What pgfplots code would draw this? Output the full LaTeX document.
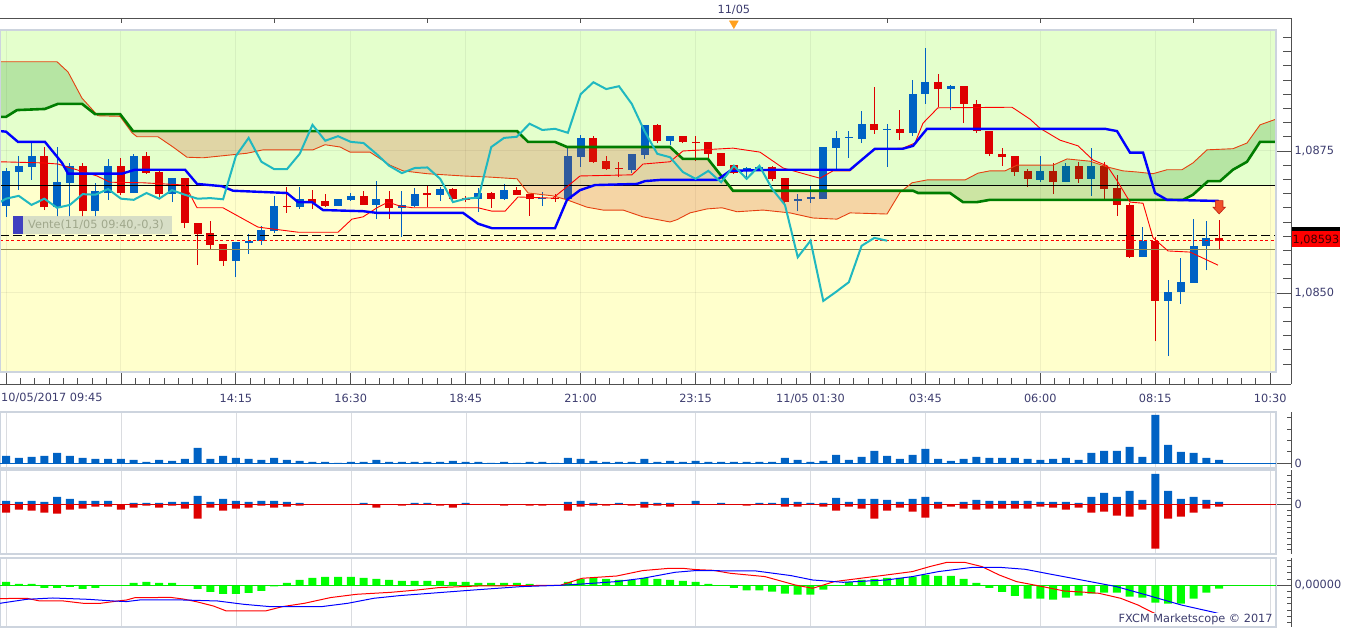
\documentclass[border=0pt]{standalone}
\usepackage{pgfplots}
\pgfplotsset{compat=1.18}
\usepackage{pgfplotstable}
\usepackage{fontspec}
\setmainfont{DejaVu Sans}

\definecolor{bggreen}{RGB}{228,255,204}
\definecolor{bgyellow}{RGB}{255,255,204}
\definecolor{cblue}{RGB}{0,98,196}
\definecolor{cred}{RGB}{221,0,0}
\definecolor{kij}{RGB}{0,0,255}
\definecolor{ten}{RGB}{255,0,0}
\definecolor{spa}{RGB}{230,64,16}
\definecolor{spb}{RGB}{0,125,0}
\definecolor{chik}{RGB}{32,184,192}
\definecolor{cgreen}{RGB}{0,128,0}
\definecolor{corange}{RGB}{210,64,27}
\definecolor{olivel}{RGB}{140,135,80}
\definecolor{framec}{RGB}{80,80,80}
\definecolor{borderc}{RGB}{205,212,222}
\definecolor{pgrid}{RGB}{218,220,224}
\definecolor{labelc}{RGB}{60,60,110}
\definecolor{hgreen}{RGB}{0,255,0}
\definecolor{zgreen}{RGB}{0,235,0}
\definecolor{orangec}{RGB}{255,160,30}
\definecolor{arrowc}{RGB}{240,80,40}
\definecolor{arrowd}{RGB}{190,30,20}
\definecolor{ventebg}{RGB}{212,220,198}
\definecolor{ventesq}{RGB}{64,64,192}
\definecolor{ventetx}{RGB}{160,168,140}
\definecolor{pricetx}{RGB}{60,0,0}

\pgfdeclareplotmark{dnarrow}{%
  \pgfpathmoveto{\pgfqpoint{-3.8pt}{6.6pt}}%
  \pgfpathlineto{\pgfqpoint{3.8pt}{6.6pt}}%
  \pgfpathlineto{\pgfqpoint{3.8pt}{0pt}}%
  \pgfpathlineto{\pgfqpoint{6.2pt}{0pt}}%
  \pgfpathlineto{\pgfqpoint{0pt}{-6.7pt}}%
  \pgfpathlineto{\pgfqpoint{-6.2pt}{0pt}}%
  \pgfpathlineto{\pgfqpoint{-3.8pt}{0pt}}%
  \pgfpathclose
  \pgfusepathqfillstroke
}

\pgfplotsset{
  base/.style={scale only axis, anchor=south west, xmin=-0.47, xmax=100.63,
    tick label style={font=\fontsize{11.3}{13.6}\selectfont}},
  panel/.style={base, width=1291pt, clip=false,
    axis x line*=bottom, x axis line style={draw=none}, xtick style={draw=none},
    xtick={0,9,...,99}, xticklabels={}, xmajorgrids, major x grid style={pgrid},
    axis y line*=right, y axis line style={draw=framec, line width=0.8pt},
    tick align=inside, ytick style={draw=framec, line width=0.8pt},
    major tick length=15pt, minor tick length=4.5pt,
    yticklabel style={color=labelc}},
}

% candles: index, open, high, low, close, k (0 up, 1 down)
\pgfplotstableread{
i o h l c k
0 1.08653 1.08720 1.08634 1.08715 0
1 1.08713 1.08741 1.08681 1.08724 0
2 1.08722 1.08764 1.08699 1.08741 0
3 1.08741 1.08757 1.08646 1.08651 1
4 1.08651 1.08757 1.08634 1.08695 0
5 1.08694 1.08729 1.08634 1.08724 0
6 1.08724 1.08729 1.08634 1.08644 1
7 1.08644 1.08694 1.08634 1.08680 0
8 1.08676 1.08736 1.08664 1.08724 0
9 1.08724 1.08738 1.08673 1.08676 1
10 1.08676 1.08745 1.08676 1.08741 0
11 1.08741 1.08748 1.08710 1.08711 1
12 1.08713 1.08717 1.08669 1.08674 1
13 1.08674 1.08702 1.08660 1.08702 0
14 1.08702 1.08702 1.08614 1.08623 1
15 1.08623 1.08623 1.08549 1.08604 1
16 1.08606 1.08627 1.08576 1.08585 1
17 1.08586 1.08586 1.08548 1.08556 1
18 1.08556 1.08590 1.08528 1.08590 0
19 1.08588 1.08604 1.08569 1.08592 0
20 1.08592 1.08618 1.08585 1.08611 0
21 1.08609 1.08671 1.08606 1.08653 0
22 1.08653 1.08687 1.08641 1.08651 1
23 1.08651 1.08687 1.08648 1.08666 0
24 1.08666 1.08681 1.08648 1.08658 1
25 1.08662 1.08674 1.08651 1.08653 1
26 1.08653 1.08666 1.08653 1.08666 0
27 1.08664 1.08676 1.08662 1.08671 0
28 1.08671 1.08680 1.08655 1.08655 1
29 1.08655 1.08697 1.08630 1.08666 0
30 1.08666 1.08680 1.08630 1.08650 1
31 1.08650 1.08680 1.08599 1.08655 0
32 1.08653 1.08685 1.08651 1.08674 0
33 1.08675 1.08690 1.08651 1.08673 1
34 1.08673 1.08687 1.08662 1.08683 0
35 1.08683 1.08685 1.08658 1.08666 1
36 1.08666 1.08671 1.08660 1.08664 1
37 1.08666 1.08685 1.08643 1.08676 0
38 1.08676 1.08678 1.08650 1.08666 1
39 1.08666 1.08692 1.08664 1.08681 0
40 1.08681 1.08687 1.08673 1.08673 1
41 1.08674 1.08674 1.08636 1.08666 1
42 1.08665 1.08678 1.08653 1.08667 0
43 1.08667 1.08674 1.08660 1.08665 1
44 1.08666 1.08757 1.08664 1.08741 0
45 1.08739 1.08778 1.08722 1.08773 0
46 1.08773 1.08776 1.08729 1.08731 1
47 1.08732 1.08741 1.08717 1.08718 1
48 1.08720 1.08731 1.08704 1.08718 1
49 1.08717 1.08745 1.08711 1.08745 0
50 1.08743 1.08796 1.08736 1.08796 0
51 1.08796 1.08798 1.08764 1.08768 1
52 1.08768 1.08776 1.08761 1.08776 0
53 1.08776 1.08776 1.08764 1.08766 1
54 1.08766 1.08776 1.08732 1.08764 1
55 1.08766 1.08766 1.08738 1.08745 1
56 1.08747 1.08747 1.08724 1.08724 1
57 1.08725 1.08725 1.08710 1.08711 1
58 1.08717 1.08722 1.08704 1.08720 0
59 1.08718 1.08725 1.08717 1.08721 0
60 1.08722 1.08724 1.08697 1.08701 1
61 1.08702 1.08702 1.08658 1.08660 1
62 1.08662 1.08674 1.08644 1.08666 0
63 1.08666 1.08690 1.08658 1.08668 0
64 1.08666 1.08757 1.08666 1.08757 0
65 1.08755 1.08785 1.08717 1.08773 0
66 1.08773 1.08785 1.08738 1.08775 0
67 1.08771 1.08820 1.08764 1.08798 0
68 1.08798 1.08863 1.08780 1.08787 1
69 1.08787 1.08798 1.08722 1.08789 0
70 1.08789 1.08822 1.08769 1.08782 1
71 1.08782 1.08875 1.08776 1.08850 0
72 1.08850 1.08931 1.08833 1.08871 0
73 1.08871 1.08886 1.08827 1.08859 1
74 1.08859 1.08866 1.08822 1.08864 0
75 1.08864 1.08864 1.08799 1.08833 1
76 1.08833 1.08840 1.08782 1.08785 1
77 1.08785 1.08785 1.08741 1.08745 1
78 1.08745 1.08755 1.08724 1.08739 1
79 1.08741 1.08741 1.08706 1.08713 1
80 1.08715 1.08718 1.08687 1.08701 1
81 1.08699 1.08741 1.08695 1.08715 0
82 1.08715 1.08729 1.08674 1.08695 1
83 1.08695 1.08729 1.08695 1.08724 0
84 1.08724 1.08731 1.08694 1.08701 1
85 1.08701 1.08755 1.08671 1.08724 0
86 1.08724 1.08731 1.08666 1.08683 1
87 1.08685 1.08708 1.08636 1.08655 1
88 1.08655 1.08658 1.08562 1.08563 1
89 1.08563 1.08616 1.08563 1.08592 0
90 1.08592 1.08599 1.08415 1.08486 1
91 1.08486 1.08523 1.08389 1.08502 0
92 1.08502 1.08562 1.08481 1.08519 0
93 1.08518 1.08630 1.08518 1.08583 0
94 1.08583 1.08627 1.08540 1.08597 0
95 1.08597 1.08629 1.08578 1.08592 1
}\candles

\pgfplotstableread{
x y
-0.47 1.08785
0 1.08784
0.94 1.08766
3.05 1.08766
4.39 1.08729
4.86 1.08710
9.08 1.08710
10.1 1.08717
14.02 1.08717
14.96 1.08692
16.91 1.08688
17.78 1.08680
22.0 1.08676
22.87 1.08660
23.96 1.08660
24.82 1.08646
27.96 1.08644
29.05 1.08641
35.79 1.08641
36.96 1.08622
38.06 1.08614
42.99 1.08614
43.93 1.08664
44.95 1.08681
46.12 1.08690
49.41 1.08692
50.04 1.08697
51.21 1.08699
55.68 1.08699
56.7 1.08715
60.38 1.08717
66.09 1.08717
68.05 1.08754
70.24 1.08754
71.03 1.08759
72.12 1.08789
86.06 1.08789
87.0 1.08785
88.02 1.08747
89.04 1.08747
89.98 1.08676
90.92 1.08664
94.99 1.08662
}\kijun

\pgfplotstableread{
x y
-0.47 1.08731
2.9 1.08729
4.07 1.08727
7.13 1.08706
8.14 1.08695
10.73 1.08694
14.02 1.08690
14.96 1.08650
16.99 1.08650
19.73 1.08616
22.87 1.08607
26.0 1.08607
27.09 1.08630
27.96 1.08634
29.05 1.08650
29.91 1.08660
30.85 1.08653
31.87 1.08650
36.96 1.08650
38.06 1.08644
39.08 1.08644
40.09 1.08669
42.83 1.08667
43.93 1.08687
44.95 1.08706
49.02 1.08708
49.88 1.08727
52.0 1.08731
53.01 1.08750
56.93 1.08755
59.04 1.08748
60.85 1.08720
63.74 1.08702
64.76 1.08715
66.09 1.08715
67.89 1.08752
70.24 1.08755
71.18 1.08764
71.81 1.08799
72.98 1.08826
78.78 1.08827
80.19 1.08806
80.97 1.08790
82.54 1.08769
83.95 1.08759
85.12 1.08734
86.22 1.08724
87.08 1.08695
88.02 1.08660
89.04 1.08658
89.82 1.08597
91.0 1.08574
92.72 1.08572
94.91 1.08549
}\tenkan

\pgfplotstableread{
x y
-0.47 1.08907
4.0 1.08907
4.86 1.08889
5.95 1.08843
7.2 1.08812
8.93 1.08811
9.87 1.08782
10.26 1.08775
11.9 1.08775
13.08 1.08757
14.17 1.08739
15.43 1.08738
18.87 1.08746
20.13 1.08752
24.04 1.08752
24.98 1.08761
26.16 1.08757
26.94 1.08748
28.5 1.08748
30.07 1.08725
31.09 1.08715
32.97 1.08710
35.79 1.08706
37.9 1.08704
40.02 1.08701
40.88 1.08676
42.83 1.08671
43.93 1.08664
45.5 1.08651
46.75 1.08646
48.32 1.08646
49.88 1.08634
52.0 1.08625
52.54 1.08629
53.56 1.08641
54.89 1.08648
56.07 1.08650
57.24 1.08643
59.28 1.08646
61.39 1.08641
63.19 1.08632
65.07 1.08630
66.09 1.08641
68.99 1.08639
70.01 1.08677
70.95 1.08694
72.12 1.08699
75.1 1.08699
76.12 1.08711
77.05 1.08715
78.23 1.08715
79.17 1.08725
81.99 1.08725
83.09 1.08736
84.89 1.08732
86.22 1.08722
87.47 1.08715
88.57 1.08713
89.82 1.08710
90.92 1.08717
92.09 1.08717
92.95 1.08729
94.05 1.08752
96.08 1.08754
97.18 1.08764
98.2 1.08796
99.45 1.08806
100.55 1.08810
}\spanA

\pgfplotstableread{
x y
-0.47 1.08810
0 1.08810
0.86 1.08822
3.05 1.08824
4.07 1.08833
5.95 1.08833
6.97 1.08815
8.93 1.08815
9.95 1.08785
40.02 1.08785
40.88 1.08766
42.99 1.08766
43.93 1.08757
52.0 1.08757
53.01 1.08736
54.97 1.08736
56.93 1.08680
71.03 1.08680
71.42 1.08676
73.92 1.08676
74.94 1.08660
76.04 1.08660
77.05 1.08664
92.17 1.08664
92.95 1.08673
94.13 1.08697
95.07 1.08697
96.08 1.08717
97.18 1.08731
98.2 1.08766
100.55 1.08766
}\spanB

% cloud areas between span A and span B (outline: one span forward, the other back)
\pgfplotstableread{
x y
-0.47 1.08907
4.0 1.08907
4.86 1.08889
5.95 1.08843
7.08 1.08815
6.97 1.08815
5.95 1.08833
4.07 1.08833
3.05 1.08824
0.86 1.08822
0 1.08810
-0.47 1.08810
}\cloudGa

\pgfplotstableread{
x y
7.08 1.08815
8.93 1.08815
9.95 1.08785
40.02 1.08785
40.88 1.08766
42.99 1.08766
43.93 1.08757
52.0 1.08757
53.01 1.08736
54.97 1.08736
56.93 1.08680
70.18 1.08680
70.01 1.08677
68.99 1.08639
66.09 1.08641
65.07 1.08630
63.19 1.08632
61.39 1.08641
59.28 1.08646
57.24 1.08643
56.07 1.08650
54.89 1.08648
53.56 1.08641
52.54 1.08629
52.0 1.08625
49.88 1.08634
48.32 1.08646
46.75 1.08646
45.5 1.08651
43.93 1.08664
42.83 1.08671
40.88 1.08676
40.02 1.08701
37.9 1.08704
35.79 1.08706
32.97 1.08710
31.09 1.08715
30.07 1.08725
28.5 1.08748
26.94 1.08748
26.16 1.08757
24.98 1.08761
24.04 1.08752
20.13 1.08752
18.87 1.08746
15.43 1.08738
14.17 1.08739
13.08 1.08757
11.9 1.08775
10.26 1.08775
9.87 1.08782
8.93 1.08811
7.2 1.08812
7.08 1.08815
}\cloudO

\pgfplotstableread{
x y
70.18 1.08680
70.95 1.08694
72.12 1.08699
75.1 1.08699
76.12 1.08711
77.05 1.08715
78.23 1.08715
79.17 1.08725
81.99 1.08725
83.09 1.08736
84.89 1.08732
86.22 1.08722
87.47 1.08715
88.57 1.08713
89.82 1.08710
90.92 1.08717
92.09 1.08717
92.95 1.08729
94.05 1.08752
96.08 1.08754
97.18 1.08764
98.2 1.08796
99.45 1.08806
100.55 1.08810
100.55 1.08766
98.2 1.08766
97.18 1.08731
96.08 1.08717
95.07 1.08697
94.13 1.08697
92.95 1.08673
92.17 1.08664
77.05 1.08664
76.04 1.08660
74.94 1.08660
73.92 1.08676
71.42 1.08676
71.03 1.08680
70.18 1.08680
}\cloudGb

\pgfplotstableread{
i v
0 7.3
1 5.3
2 6.3
3 7.3
4 10.3
5 7.3
6 5.3
7 4.3
8 4.3
9 4.3
10 3.3
11 1.3
12 3.3
13 2.3
14 4.3
15 15.3
16 4.3
17 7.3
18 5.3
19 4.3
20 3.3
21 5.3
22 3.3
23 2.3
24 1.3
25 1.3
26 0.5
27 1.3
28 1.3
29 3.3
30 1.3
31 1.3
32 1.3
33 1.3
34 1.3
35 2.3
36 1.3
37 1.3
38 0.5
39 1.3
40 0.5
41 1.3
42 1.3
43 0.5
44 5.3
45 4.3
46 2.3
47 1.3
48 1.3
49 1.3
50 4.3
51 1.3
52 2.3
53 1.3
54 2.3
55 1.3
56 1.3
57 1.3
58 1.3
59 1.3
60 1.3
61 5.3
62 3.3
63 1.3
64 2.3
65 8.3
66 3.3
67 6.3
68 12.3
69 7.3
70 4.3
71 8.3
72 14.3
73 4.3
74 2.3
75 4.3
76 6.3
77 5.3
78 5.3
79 5.3
80 4.3
81 3.3
82 4.3
83 5.3
84 3.3
85 10.3
86 12.3
87 12.3
88 16.3
89 6.3
90 48.3
91 18.3
92 11.3
93 10.3
94 5.3
95 3.3
}\vol

\pgfplotstableread{
i up dn
0 3.3 -8.3
1 2.3 -5.3
2 3.3 -6.3
3 2.3 -8.3
4 7.3 -9.3
5 5.3 -5.3
6 3.3 -4.3
7 3.3 -2.3
8 3.3 -2.3
9 0 -5.3
10 1.3 -3.3
11 1.3 -1.3
12 1.3 -3.3
13 2.3 -1.3
14 2.3 -4.3
15 8.3 -14.3
16 2.3 -3.3
17 5.3 -6.3
18 3.3 -4.3
19 2.3 -3.3
20 3.3 -1.3
21 3.3 -3.3
22 2.3 -2.3
23 1.3 -1.3
24 0 -0.7
28 1.3 0
29 0 -3.3
31 0 -1.3
32 1.3 0
33 1.3 0
34 0 -1.3
35 0 -3.3
36 1.3 0
39 0 -1.3
41 0 -1.3
42 0 -1.3
44 2.3 -6.3
45 3.3 -2.3
46 1.3 -1.3
47 0 -1.3
48 1.3 0
49 0 -1.3
50 2.3 -3.3
51 1.3 -1.3
52 1.3 -2.3
54 3.3 0
56 1.3 0
58 0 -1.3
59 1.3 0
60 1.3 0
61 6.3 -2.3
62 2.3 -2.3
63 1.3 0
64 1.3 -2.3
65 6.3 -6.3
66 2.3 -2.3
67 5.3 -4.3
68 5.3 -14.3
69 4.3 -6.3
70 2.3 -3.3
71 5.3 -7.3
72 7.3 -13.3
73 2.3 -4.3
74 0 -2.3
75 2.3 -4.3
76 4.3 -5.3
77 3.3 -4.3
78 3.3 -4.3
79 3.3 -4.3
80 3.3 -4.3
81 2.3 -2.3
82 2.3 -3.3
83 2.3 -5.3
84 1.3 -3.3
85 7.3 -8.3
86 11.3 -7.3
87 7.3 -11.3
88 13.3 -12.3
89 4.3 -5.3
90 30.3 -44.3
91 13.3 -14.3
92 5.3 -12.3
93 7.3 -8.3
94 4.3 -4.3
95 2.3 -2.3
}\buysell

\pgfplotstableread{
i v
0 3.3
1 1.3
2 1.3
3 -2.7
4 -2.7
5 -1.7
6 -3.7
7 -2.7
10 2.3
11 3.3
12 2.3
13 2.3
15 -3.7
16 -6.7
17 -8.7
18 -8.7
19 -7.7
20 -5.7
21 -1.0
22 2.3
23 5.3
24 7.3
25 8.3
26 8.3
27 8.3
28 7.3
29 6.3
30 5.3
31 4.3
32 4.3
33 4.3
34 4.3
35 3.3
36 3.3
37 2.3
38 2.3
39 2.3
40 2.3
41 1.3
44 3.3
45 6.3
46 7.3
47 6.3
48 5.3
49 5.3
50 7.3
51 6.3
52 5.3
53 4.3
54 3.3
55 1.3
57 -2.7
58 -5.0
59 -5.0
60 -6.3
61 -8.3
62 -9.3
63 -9.3
64 -4.3
66 3.3
67 5.3
68 6.3
69 7.3
70 7.3
71 8.3
72 10.3
73 9.3
74 9.3
75 6.3
76 2.3
77 -2.7
78 -6.7
79 -10.7
80 -13.3
81 -13.3
82 -14.3
83 -12.3
84 -10.3
85 -8.3
86 -7.3
87 -7.3
88 -11.3
89 -12.3
90 -17.3
91 -18.3
92 -18.3
93 -13.3
94 -7.3
95 -3.3
}\hist

\pgfplotstableread{
x y
-0.47 -13.3
1.63 -13.0
2.65 -15.7
4.52 -15.7
6.05 -18.0
7.4 -18.0
8.76 -15.7
9.44 -14.7
10.12 -12.3
11.48 -12.3
12.84 -12.0
13.86 -13.7
14.88 -16.3
16.24 -20.7
17.26 -25.7
20.31 -25.7
21.67 -21.3
23.37 -18.0
25.41 -12.3
27.45 -9.0
30.16 -7.0
32.2 -4.7
33.9 -2.3
36.96 -0.7
43.41 0
45.11 7.0
47.83 9.3
49.86 14.7
51.96 17.0
52.98 17.0
54.0 15.7
55.36 15.0
56.72 12.0
59.43 8.7
61.81 0.3
63.17 -3.0
64.87 3.7
66.91 7.0
68.94 10.3
70.98 13.7
72.34 18.7
73.7 23.0
75.06 23.0
76.42 18.7
77.78 10.3
79.13 3.7
81.17 -1.3
82.87 -5.7
84.57 -7.0
85.59 -8.0
87.29 -13.0
88.64 -19.7
89.66 -26.3
91.0 -34.0
}\macdred

\pgfplotstableread{
x y
-0.47 -18.0
1.63 -14.0
3.67 -12.7
6.39 -14.0
8.42 -15.7
9.44 -16.3
10.46 -14.7
13.86 -14.7
16.58 -15.7
18.61 -19.0
20.65 -21.3
24.73 -21.3
26.77 -18.0
28.8 -13.0
30.84 -10.3
33.22 -8.0
36.62 -4.7
40.35 -1.3
43.41 0
45.11 1.3
47.83 3.7
49.86 7.0
52.4 13.0
54.0 14.7
58.75 14.3
61.47 9.7
63.17 5.3
65.55 3.0
68.94 5.3
70.98 8.7
73.02 13.7
75.74 18.0
77.78 18.0
79.81 16.0
81.85 11.0
84.23 5.3
86.95 -1.3
89.32 -9.7
92.04 -19.7
94.59 -27.0
95.5 -30.0
}\macdblue

\begin{document}
\begin{tikzpicture}[font=\fontsize{11.3}{13.6}\selectfont]
\path[use as bounding box] (0pt,0pt) rectangle (1349pt,628pt);

% ---------- main frame: backgrounds + time axis
\begin{axis}[base, at={(0pt,244pt)}, width=1291pt, height=366pt,
  ymin=1.083398, ymax=1.089842, clip=false,
  axis x line*=bottom, axis y line=none,
  x axis line style={draw=framec, line width=0.8pt},
  tick align=inside, xtick style={draw=framec, line width=0.8pt},
  major tick length=12pt, minor tick length=6pt,
  xtick={0,9,...,99}, minor x tick num=7,
  xticklabels={,,14:15,16:30,18:45,21:00,23:15,11/05 01:30,03:45,06:00,08:15,10:30},
  xticklabel style={color=labelc, yshift=-6.5pt}]
\addplot[fill=bggreen, draw=none] coordinates {(-0.47,1.08690) (99.45,1.08690) (99.45,1.08963) (-0.47,1.08963) (-0.47,1.08690)};
\addplot[fill=bgyellow, draw=none] coordinates {(-0.47,1.083609) (99.45,1.083609) (99.45,1.08690) (-0.47,1.08690) (-0.47,1.083609)};
\end{axis}

% ---------- main plot area
\begin{axis}[base, at={(0pt,256pt)}, width=1276pt, height=342pt, xmax=99.45,
  ymin=1.083609, ymax=1.089630,
  axis line style={draw=none}, tick style={draw=none},
  xtick={0,9,...,99}, ytick={1.085,1.0875}, xticklabels={}, yticklabels={},
  grid=major, major grid style={draw=black, opacity=0.06, line width=1pt}]
% wicks
\addplot[mark=none, draw=none, forget plot, restrict y to domain=1:2,
  error bars/.cd, y dir=plus, y explicit, error mark=none,
  error bar style={draw=cblue, line width=1pt, solid}]
  table[x=i, y expr={\thisrow{k}==0 ? \thisrow{l} : 0}, y error plus expr={\thisrow{h}-\thisrow{l}}] {\candles};
\addplot[mark=none, draw=none, forget plot, restrict y to domain=1:2,
  error bars/.cd, y dir=plus, y explicit, error mark=none,
  error bar style={draw=cred, line width=1pt, solid}]
  table[x=i, y expr={\thisrow{k}==1 ? \thisrow{l} : 0}, y error plus expr={\thisrow{h}-\thisrow{l}}] {\candles};
% bodies
\addplot[mark=none, draw=none, forget plot, restrict y to domain=1:2,
  error bars/.cd, y dir=plus, y explicit, error mark=none,
  error bar style={draw=cblue, line width=8pt, solid}]
  table[x=i, y expr={\thisrow{k}==0 ? \thisrow{o} : 0}, y error plus expr={max(\thisrow{c}-\thisrow{o},0.000025)}] {\candles};
\addplot[mark=none, draw=none, forget plot, restrict y to domain=1:2,
  error bars/.cd, y dir=plus, y explicit, error mark=none,
  error bar style={draw=cred, line width=8pt, solid}]
  table[x=i, y expr={\thisrow{k}==1 ? \thisrow{c} : 0}, y error plus expr={max(\thisrow{o}-\thisrow{c},0.000025)}] {\candles};
% cloud
\addplot[fill=cgreen, fill opacity=0.2, draw=none] table {\cloudGa};
\addplot[fill=corange, fill opacity=0.22, draw=none] table {\cloudO};
\addplot[fill=cgreen, fill opacity=0.2, draw=none] table {\cloudGb};
% horizontal price lines
\addplot[black, line width=0.8pt] coordinates {(-0.47,1.08690) (99.45,1.08690)};
\addplot[black, dash pattern=on 9pt off 4pt, line width=0.9pt] coordinates {(-0.47,1.08601) (99.45,1.08601)};
\addplot[red, dash pattern=on 3pt off 2.5pt, line width=1pt] coordinates {(-0.47,1.08593) (99.45,1.08593)};
\addplot[olivel, line width=1pt] coordinates {(-0.47,1.08577) (99.45,1.08577)};
% ichimoku lines
\addplot[spa, line width=0.9pt] table {\spanA};
\addplot[spb, line width=2.6pt] table {\spanB};
\addplot[ten, line width=0.9pt] table {\tenkan};
\addplot[kij, line width=2.4pt] table {\kijun};
\addplot[chik, line width=2pt] table[x expr=\thisrow{i}-26, y=c] {\candles};
% sell signal arrow
\addplot[only marks, mark=dnarrow, mark options={fill=arrowc, draw=arrowd, line width=0.6pt}] coordinates {(95,1.08651)};
\end{axis}

% ---------- price axis
\begin{axis}[base, at={(0pt,244pt)}, width=1291pt, height=366pt,
  ymin=1.083398, ymax=1.089842, clip=false,
  axis y line*=right, axis x line=none,
  y axis line style={draw=framec, line width=0.8pt},
  tick align=inside, ytick style={draw=framec, line width=0.8pt},
  major tick length=15pt, minor tick length=8pt,
  ytick={1.085,1.0875}, yticklabels={{1,0850},{1,0875}},
  minor ytick={1.08375,1.084,1.08425,1.0845,1.08475,1.08525,1.0855,1.08575,1.086,1.08625,1.0865,1.08675,1.087,1.08725,1.08775,1.088,1.08825,1.0885,1.08875,1.089,1.08925,1.0895},
  yticklabel style={color=labelc}]
\addplot[borderc, line width=1.6pt] coordinates {(-0.47,1.083609) (99.45,1.083609) (99.45,1.089630) (-0.47,1.089630) (-0.47,1.083609)};
\end{axis}

% ---------- top band
\begin{axis}[base, at={(0pt,598pt)}, width=1291pt, height=12pt, ymin=0, ymax=1, clip=false,
  axis x line*=top, axis y line=none,
  x axis line style={draw=framec, line width=0.8pt},
  tick align=inside, xtick style={draw=framec, line width=0.8pt}, major tick length=5pt,
  xtick={9,21,33,45,69,81,93}, xticklabels={},
  extra x ticks={57}, extra x tick labels={11/05},
  extra x tick style={major tick length=0pt, xticklabel style={color=labelc}}]
\addplot[only marks, mark=triangle*, mark size=5.2pt, mark options={rotate=180, fill=orangec, draw=orangec}] coordinates {(57,0.55)};
\end{axis}

% ---------- panel 1: volume
\begin{axis}[panel, at={(0pt,160pt)}, height=56pt, ymin=-4.7, ymax=51.3,
  ytick={0}, yticklabels={0}, minor ytick={11.4,22.8,34.2,45.6}]
\addplot[borderc, line width=1.6pt] coordinates {(-0.47,-4.7) (99.45,-4.7) (99.45,51.3) (-0.47,51.3) (-0.47,-4.7)};
\addplot[ybar, bar width=8pt, bar shift=0pt, fill=cblue, draw=none] table[x=i, y=v] {\vol};
\addplot[cblue, line width=1pt] coordinates {(-0.47,0) (99.45,0)};
\end{axis}

% ---------- panel 2: up / down volume
\begin{axis}[panel, at={(0pt,74pt)}, height=84pt, ymin=-49.7, ymax=34.3,
  ytick={0}, yticklabels={0}, minor ytick={-45.6,-39.9,-34.2,-28.5,-22.8,-17.1,-11.4,-5.7,5.7,11.4,17.1,22.8,28.5}]
\addplot[borderc, line width=1.6pt] coordinates {(-0.47,-49.7) (99.45,-49.7) (99.45,34.3) (-0.47,34.3) (-0.47,-49.7)};
\addplot[ybar, bar width=8pt, bar shift=0pt, fill=cblue, draw=none] table[x=i, y=up] {\buysell};
\addplot[ybar, bar width=8pt, bar shift=0pt, fill=cred, draw=none] table[x=i, y=dn] {\buysell};
\addplot[cred, line width=1pt] coordinates {(-0.47,0) (99.45,0)};
\end{axis}

% ---------- panel 3: MACD
\begin{axis}[panel, at={(0pt,1pt)}, height=69pt, ymin=-41.7, ymax=27.3,
  ytick={0}, yticklabels={0{,}00000}, minor ytick={-37.2,-31.0,-24.8,-18.6,-12.4,-6.2,6.2,12.4,18.6,24.8}]
\addplot[borderc, line width=1.6pt] coordinates {(-0.47,-41.7) (99.45,-41.7) (99.45,27.3) (-0.47,27.3) (-0.47,-41.7)};
\addplot[ybar, bar width=8pt, bar shift=0pt, fill=hgreen, draw=none] table[x=i, y=v] {\hist};
\addplot[zgreen, line width=1.2pt] coordinates {(-0.47,0) (99.45,0)};
\addplot[ten, line width=1pt] table {\macdred};
\addplot[kij, line width=1pt] table {\macdblue};
\end{axis}

% ---------- annotations
\node[anchor=west, text=labelc, inner sep=0pt] at (1pt,230.5pt) {10/05/2017 09:45};
\fill[black] (1291.7pt,385pt) rectangle (1340pt,401pt);
\fill[red] (1291.7pt,380.5pt) rectangle (1340pt,396.5pt);
\node[text=pricetx, inner sep=0pt] at (1316pt,388.5pt) {1,08593};
\fill[ventebg, opacity=0.92] (22.7pt,393.7pt) rectangle (172.3pt,411.5pt);
\fill[ventesq] (12.7pt,393.7pt) rectangle (22.7pt,411.5pt);
\node[anchor=west, text=ventetx, inner sep=0pt] at (28pt,402.6pt) {Vente(11/05 09:40,-0,3)};
\node[anchor=east, fill=white, text=labelc, inner sep=1.2pt] at (1274pt,8.5pt) {FXCM Marketscope © 2017};
\end{tikzpicture}
\end{document}
